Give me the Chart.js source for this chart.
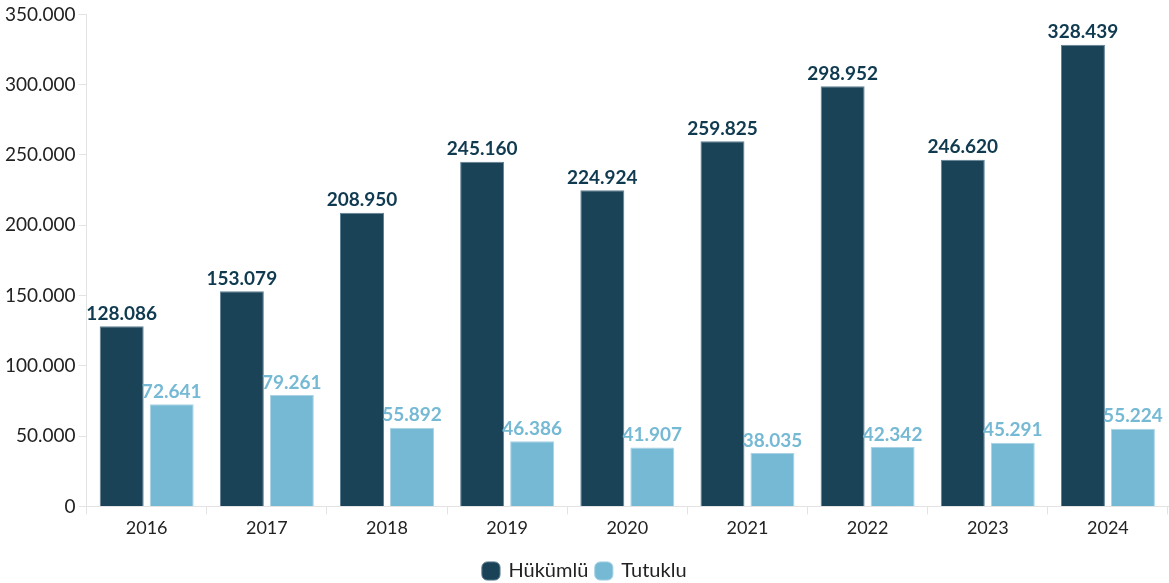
<!DOCTYPE html>
<html>
<head>
<meta charset="utf-8">
<script src="https://cdn.jsdelivr.net/npm/chart.js@4"></script>
<style>
  html, body { margin: 0; padding: 0; background: #fff; }
  #wrap { width: 1169px; height: 583px; }
</style>
</head>
<body>
<div id="wrap"><canvas id="chart"></canvas></div>
<script>
// Chart data
const years = ["2016", "2017", "2018", "2019", "2020", "2021", "2022", "2023", "2024"];
const hukumlu = [128086, 153079, 208950, 245160, 224924, 259825, 298952, 246620, 328439];
const tutuklu = [72641, 79261, 55892, 46386, 41907, 38035, 42342, 45291, 55224];

const fmt = (v) => v.toLocaleString("de-DE");

// Draws the value above each bar
const barLabels = {
  id: "barLabels",
  afterDatasetsDraw(chart) {
    const ctx = chart.ctx;
    ctx.save();
    ctx.font = "bold 19px Lato";
    ctx.textAlign = "center";
    ctx.textBaseline = "bottom";
    chart.data.datasets.forEach((ds, i) => {
      const meta = chart.getDatasetMeta(i);
      ctx.fillStyle = ds.labelColor;
      meta.data.forEach((bar, j) => {
        ctx.fillText(fmt(ds.data[j]), bar.x, bar.y - 3);
      });
    });
    ctx.restore();
  }
};

new Chart(document.getElementById("chart"), {
  type: "bar",
  data: {
    labels: years,
    datasets: [
      {
        label: "Hükümlü",
        data: hukumlu,
        backgroundColor: "#1a4357",
        borderColor: "#5f8093",
        borderWidth: 1,
        labelColor: "#0f3a50",
        barPercentage: 0.88,
        categoryPercentage: 0.832,
      },
      {
        label: "Tutuklu",
        data: tutuklu,
        backgroundColor: "#75b9d4",
        borderColor: "#a9d3e4",
        borderWidth: 1,
        labelColor: "#75b9d4",
        barPercentage: 0.88,
        categoryPercentage: 0.832,
      },
    ],
  },
  options: {
    responsive: true,
    maintainAspectRatio: false,
    animation: false,
    layout: { padding: { top: 12, right: 1, left: 2, bottom: -8 } },
    plugins: {
      legend: {
        position: "bottom",
        labels: {
          usePointStyle: true,
          pointStyle: "rectRounded",
          boxWidth: 15,
          boxHeight: 15,
          padding: 8,
          color: "#222",
          font: { family: "Lato", size: 20 },
        },
      },
      tooltip: { enabled: false },
    },
    scales: {
      x: {
        grid: { drawOnChartArea: false, color: "#e3e3e3", tickLength: 8 },
        border: { color: "#e3e3e3" },
        ticks: { color: "#222", font: { family: "Lato", size: 18 } },
        afterFit: (scale) => { scale.height += 11; },
      },
      y: {
        min: 0,
        max: 350000,
        grid: { drawOnChartArea: false, color: "#e3e3e3", tickLength: 8 },
        border: { color: "#e3e3e3" },
        ticks: {
          stepSize: 50000,
          color: "#222",
          font: { family: "Lato", size: 19 },
          callback: (v) => fmt(v),
        },
      },
    },
  },
  plugins: [barLabels],
});
</script>
</body>
</html>
